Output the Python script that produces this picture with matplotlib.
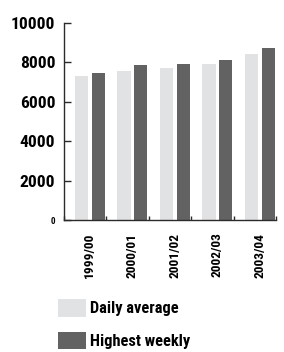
import matplotlib
matplotlib.use("Agg")
import matplotlib.pyplot as plt
import numpy as np
from matplotlib.patches import Patch

# Values
seasons = ["1999/00", "2000/01", "2001/02", "2002/03", "2003/04"]
daily_average = [7300, 7530, 7700, 7900, 8430]
highest_weekly = [7450, 7840, 7900, 8110, 8720]
y_ticks = [0, 2000, 4000, 6000, 8000, 10000]

light = "#e1e2e4"
dark = "#626262"
axis_col = "#2b2b2b"

plt.rcParams["font.family"] = ["Liberation Sans Narrow", "Roboto Condensed", "Liberation Sans", "DejaVu Sans"]
plt.rcParams["font.weight"] = "bold"

fig = plt.figure(figsize=(2.84, 3.52), dpi=100)
ax = fig.add_axes([63.5 / 284, 1 - 220 / 352, (276 - 63.5) / 284, (220 - 22.7) / 352])

x = np.arange(len(seasons))
w = 0.31
ax.bar(x + 0.27, daily_average, width=w, align="edge", color=light)
ax.bar(x + 0.665, highest_weekly, width=w, align="edge", color=dark)

ax.set_xlim(0, len(seasons))
ax.set_ylim(0, 10000)

for s in ["top", "right"]:
    ax.spines[s].set_visible(False)
for s in ["left", "bottom"]:
    ax.spines[s].set_color(axis_col)
    ax.spines[s].set_linewidth(1.0)

# boundaries get small inward ticks, season labels sit on minor ticks
ax.set_xticks(np.arange(len(seasons) + 1))
ax.set_xticklabels([])
ax.tick_params(axis="x", which="major", direction="in", length=3, width=1.0, color=axis_col)
ax.set_xticks(x + 0.62, minor=True)
ax.set_xticklabels(seasons, minor=True, rotation=90, fontsize=9.6, fontweight="heavy")
ax.tick_params(axis="x", which="minor", length=0, pad=9)

ax.set_yticks(y_ticks)
ax.set_yticklabels([str(v) for v in y_ticks], fontsize=12.6, fontweight="heavy")
ax.tick_params(axis="y", direction="in", length=5, width=1.0, color=axis_col, pad=6)
ax.get_yticklabels()[0].set_fontsize(6.5)

handles = [Patch(facecolor=light, edgecolor="none"), Patch(facecolor=dark, edgecolor="none")]
fig.legend(handles, ["Daily average", "Highest weekly"], loc="upper left",
           bbox_to_anchor=(58 / 284, 1 - 299 / 352), frameon=False,
           prop={"size": 11.8, "weight": "heavy"}, handlelength=1.7, handleheight=1.28,
           handletextpad=0.25, labelspacing=0.91, borderpad=0, borderaxespad=0)

fig.savefig("out.png", dpi=100)
